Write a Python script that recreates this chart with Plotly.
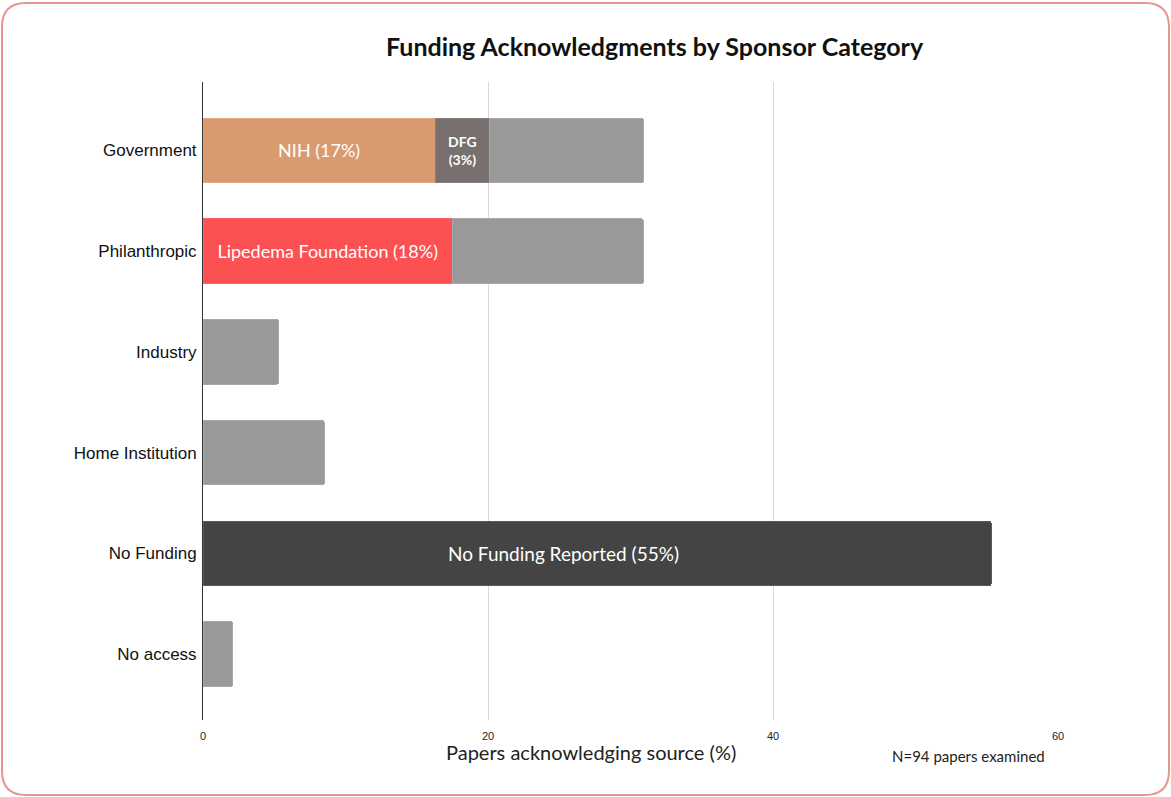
import plotly.graph_objects as go

# ---------------- data ----------------
categories = ["Government", "Philanthropic", "Industry", "Home Institution", "No Funding", "No access"]
totals = [30.9, 30.9, 5.3, 8.5, 55.3, 2.1]          # % of papers acknowledging each category

lead_cats = ["Government", "Philanthropic"]
lead_names = ["NIH", "Lipedema Foundation"]
lead_vals = [16.3, 17.5]
lead_labels = ["NIH (17%)", "Lipedema Foundation (18%)"]

dfg_cat = ["Government"]
dfg_val = [3.8]
dfg_label = ["DFG<br>(3%)"]

no_funding_label = "No Funding Reported (55%)"
x_ticks = [0, 20, 40, 60]

# remainder (grey) per category after the highlighted sponsors are stacked
lead_map = dict(zip(lead_cats, lead_vals))
dfg_map = dict(zip(dfg_cat, dfg_val))
rest_vals = [t - lead_map.get(c, 0) - dfg_map.get(c, 0) for c, t in zip(categories, totals)]
rest_colors = ["#444444" if c == "No Funding" else "#999999" for c in categories]
rest_lines = ["#5a5a5a" if c == "No Funding" else "#a8a8a8" for c in categories]

# ---------------- geometry helpers ----------------
W, H = 1171, 797
ML, MR, MT, MB = 203, 113, 82, 77
PW, PH = W - ML - MR, H - MT - MB


def px(x):
    return (x - ML) / PW


def py(y):
    return (H - MB - y) / PH


fig = go.Figure()

fig.add_trace(go.Bar(
    y=lead_cats, x=lead_vals, orientation="h", name="Lead sponsor",
    marker=dict(color=["#DA9A70", "#FD5052"], line=dict(color=["#e0a882", "#fd6466"], width=1)),
    text=lead_labels, textposition="inside", insidetextanchor="middle",
    textfont=dict(family="Lato", size=18, color="white"),
    hoverinfo="x+y",
))
fig.add_trace(go.Bar(
    y=dfg_cat, x=dfg_val, orientation="h", name="DFG",
    marker=dict(color="#78706E", line=dict(color="#868080", width=1)),
    text=dfg_label, textposition="inside", insidetextanchor="middle",
    textfont=dict(family="Lato", size=14, color="white", weight="bold"),
))
fig.add_trace(go.Bar(
    y=categories, x=rest_vals, orientation="h", name="Other",
    marker=dict(color=rest_colors, line=dict(color=rest_lines, width=1)),
))

fig.add_annotation(
    x=25.3, y="No Funding", xref="x", yref="y", text=no_funding_label, showarrow=False,
    xanchor="center", yanchor="middle",
    font=dict(family="Lato", size=19, color="white"),
)

# title, axis title, note
fig.add_annotation(x=px(655), y=py(46), xref="paper", yref="paper", xanchor="center", yanchor="middle",
                   text="<b>Funding Acknowledgments by Sponsor Category</b>", showarrow=False,
                   font=dict(family="Lato", size=25, color="#111111"))
fig.add_annotation(x=px(591), y=py(752), xref="paper", yref="paper", xanchor="center", yanchor="middle",
                   text="Papers acknowledging source (%)", showarrow=False,
                   font=dict(family="Lato", size=20, color="#222222"))
fig.add_annotation(x=px(968), y=py(756), xref="paper", yref="paper", xanchor="center", yanchor="middle",
                   text="N=94 papers examined", showarrow=False,
                   font=dict(family="Lato", size=15, color="#222222"))

# rounded outer border
x0, y0, x1, y1, r = 2, 3, 1169, 795, 24
path = (
    f"M {px(x0 + r)},{py(y0)} L {px(x1 - r)},{py(y0)} "
    f"Q {px(x1)},{py(y0)} {px(x1)},{py(y0 + r)} "
    f"L {px(x1)},{py(y1 - r)} Q {px(x1)},{py(y1)} {px(x1 - r)},{py(y1)} "
    f"L {px(x0 + r)},{py(y1)} Q {px(x0)},{py(y1)} {px(x0)},{py(y1 - r)} "
    f"L {px(x0)},{py(y0 + r)} Q {px(x0)},{py(y0)} {px(x0 + r)},{py(y0)} Z"
)
fig.add_shape(type="path", path=path, xref="paper", yref="paper",
              line=dict(color="#E8968B", width=2), layer="above")

fig.update_layout(
    width=W, height=H,
    margin=dict(l=ML, r=MR, t=MT, b=MB),
    barmode="stack", bargap=0.36,
    barcornerradius=2,
    showlegend=False,
    plot_bgcolor="white", paper_bgcolor="white",
    xaxis=dict(range=[0, 60], tickvals=x_ticks, showgrid=True, gridcolor="#d9d9d9", gridwidth=1,
               zeroline=False, showline=False, ticks="", ticklabelstandoff=8,
               tickfont=dict(family="Liberation Sans", size=11, color="#222222")),
    yaxis=dict(categoryorder="array", categoryarray=categories, range=[5.655, -0.68],
               showline=True, linecolor="#333333", linewidth=1, ticks="", ticklabelstandoff=2,
               tickfont=dict(family="Liberation Sans", size=17, color="#111111")),
)

fig.write_html("out.html")
